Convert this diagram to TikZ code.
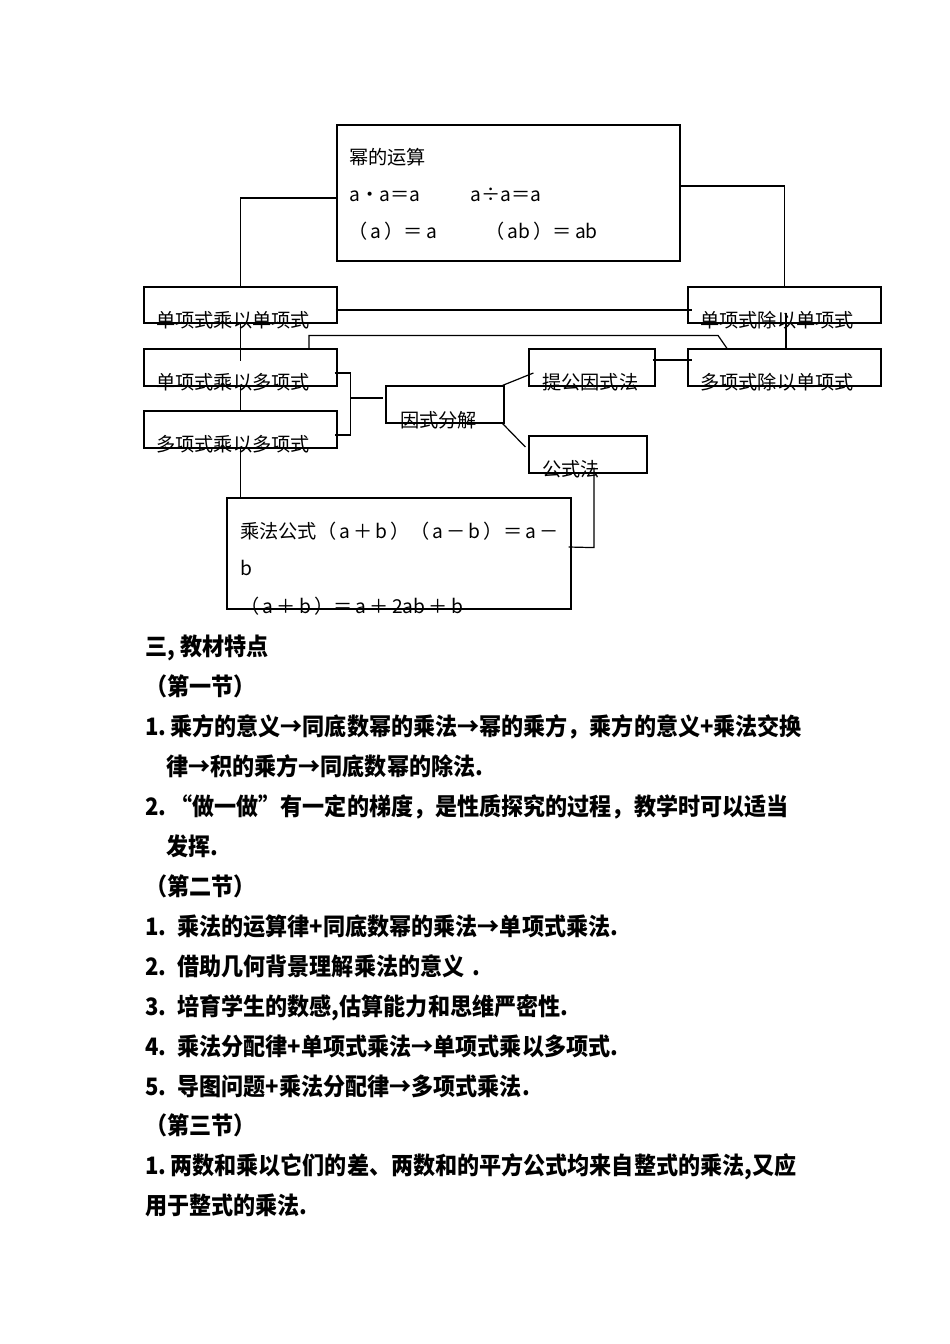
\documentclass[tikz,border=0pt]{standalone}
\usepackage{fontspec}
\newfontfamily\cjk{Noto Sans CJK SC}
\newfontfamily\cjkb{Noto Sans CJK SC}[FakeStretch=0.92]
\usetikzlibrary{calc}
\begin{document}
\begin{tikzpicture}[x=1pt,y=-1pt,
  box/.style={draw,line width=1.2pt,inner sep=0pt,rectangle},
  lbl/.style={anchor=base west,inner sep=0pt,font=\cjk\fontsize{19.2}{19.2}\selectfont},
  body/.style={anchor=base west,inner sep=0pt,font=\cjkb\bfseries\fontsize{24}{24}\selectfont},
  conn/.style={line width=1.2pt}]
\useasboundingbox[fill=white] (0,0) rectangle (950,1344);
% boxes
\node[box,minimum width=343pt,minimum height=136pt] (pw) at (508.5,193) {};
\node[box,minimum width=193pt,minimum height=36pt] (mm) at (240.5,305) {};
\node[box,minimum width=193pt,minimum height=36pt] (dm) at (784.5,305) {};
\node[box,minimum width=193pt,minimum height=37pt] (mp) at (240.5,367.5) {};
\node[box,minimum width=193pt,minimum height=37pt] (pp) at (240.5,429.5) {};
\node[box,minimum width=126pt,minimum height=37pt] (tg) at (592,367.5) {};
\node[box,minimum width=193pt,minimum height=37pt] (pd) at (784.5,367.5) {};
\node[box,minimum width=118pt,minimum height=37pt] (fj) at (445,404.5) {};
\node[box,minimum width=118pt,minimum height=37pt] (gs) at (588,454.5) {};
\node[box,minimum width=344pt,minimum height=111pt] (cf) at (399,553.5) {};
% box texts
\node[lbl] (t1) at (349,164) {幂的运算};
\node[lbl] (t2) at (349,201) {a・a＝a};
\node[lbl] (t3) at (470,201) {a÷a＝a};
\node[lbl] (t4) at (348,238) {（\,a\,）＝\,a};
\node[lbl] (t5) at (485,238) {（\,ab\,）＝\,ab};
\node[lbl] (tmm) at (156,327) {单项式乘以单项式};
\node[lbl] (tdm) at (700,327) {单项式除以单项式};
\node[lbl] (tmp) at (156,389) {单项式乘以多项式};
\node[lbl] (tpp) at (156,451) {多项式乘以多项式};
\node[lbl] (ttg) at (542,389) {提公因式法};
\node[lbl] (tpd) at (700,389) {多项式除以单项式};
\node[lbl] (tfj) at (400,427) {因式分解};
\node[lbl] (tgs) at (542,476) {公式法};
\node[lbl] (c1) at (240,538) {乘法公式（\,a\,＋\,b\,）（\,a\,－\,b\,）＝\,a\,－};
\node[lbl] (c2) at (240,575) {b};
\node[lbl] (c3) at (240,613) {（\,a\,＋\,b\,）＝\,a\,＋\,2ab\,＋\,b};
% connectors
\draw[conn] ($(pw.west)+(0,5)$) -| (mm.north);
\draw[conn] ($(pw.east)+(0,-7)$) -| (dm.north);
\draw[conn] (mm.south) -- ++(0,37);
\draw[conn] (mp.south) -- (pp.north);
\draw[conn] (pp.south) -- (pp.south |- cf.north);
\draw[conn] ($(mm.east)+(-2,5)$) -- ($(dm.west)+(5,5)$);
\draw[conn] ($(mp.north)+(68.5,0)$) -- ++(0,-13) -- ($(pd.north)+(-66.5,-13)$) -- ($(pd.north)+(-57.5,0)$);
\draw[conn] ($(dm.south)+(1.5,-11)$) -- ($(pd.north)+(1.5,0)$);
\draw[conn] ($(tg.east)+(-3,-7.5)$) -- ($(pd.west)+(5,-7.5)$);
\draw[conn] ($(mp.east)+(-3,5.5)$) -- ++(16,0) |- ($(pp.east)+(-3,5.5)$);
\draw[conn] ($(mp.east)+(13,30.5)$) -- ($(fj.west)+(-2,-6.5)$);
\draw[conn] ($(fj.north east)+(-2,0)$) -- ($(tg.west)+(5,5.5)$);
\draw[conn] ($(fj.south east)+(-2,0)$) -- ($(gs.west)+(-3,-7.5)$);
\draw[conn] ($(gs.south)+(6,-6)$) -- ++(0,80) -- ($(cf.east)+(-3,-6.5)$);
% body text
\node[body] (h0) at (145,655) {三, 教材特点};
\node[body] (h1) at (145,695) {（第一节）};
\node[body] (l1) at (145,735) {1.\,乘方的意义→同底数幂的乘法→幂的乘方，乘方的意义+乘法交换};
\node[body] (l2) at (166,775) {律→积的乘方→同底数幂的除法.};
\node[body] (l3) at (145,815) {2.\,“做一做”有一定的梯度，是性质探究的过程，教学时可以适当};
\node[body] (l4) at (166,855) {发挥.};
\node[body] (h2) at (145,895) {（第二节）};
\node[body] (m1) at (145,935) {1.\hspace{11pt}乘法的运算律+同底数幂的乘法→单项式乘法.};
\node[body] (m2) at (145,975) {2.\hspace{11pt}借助几何背景理解乘法的意义\hspace{8pt}.};
\node[body] (m3) at (145,1015) {3.\hspace{11pt}培育学生的数感,估算能力和思维严密性.};
\node[body] (m4) at (145,1055) {4.\hspace{11pt}乘法分配律+单项式乘法→单项式乘以多项式.};
\node[body] (m5) at (145,1095) {5.\hspace{11pt}导图问题+乘法分配律→多项式乘法.};
\node[body] (h3) at (145,1134) {（第三节）};
\node[body] (n1) at (145,1174) {1.\,两数和乘以它们的差、两数和的平方公式均来自整式的乘法,又应};
\node[body] (n2) at (145,1214) {用于整式的乘法.};
\end{tikzpicture}
\end{document}
